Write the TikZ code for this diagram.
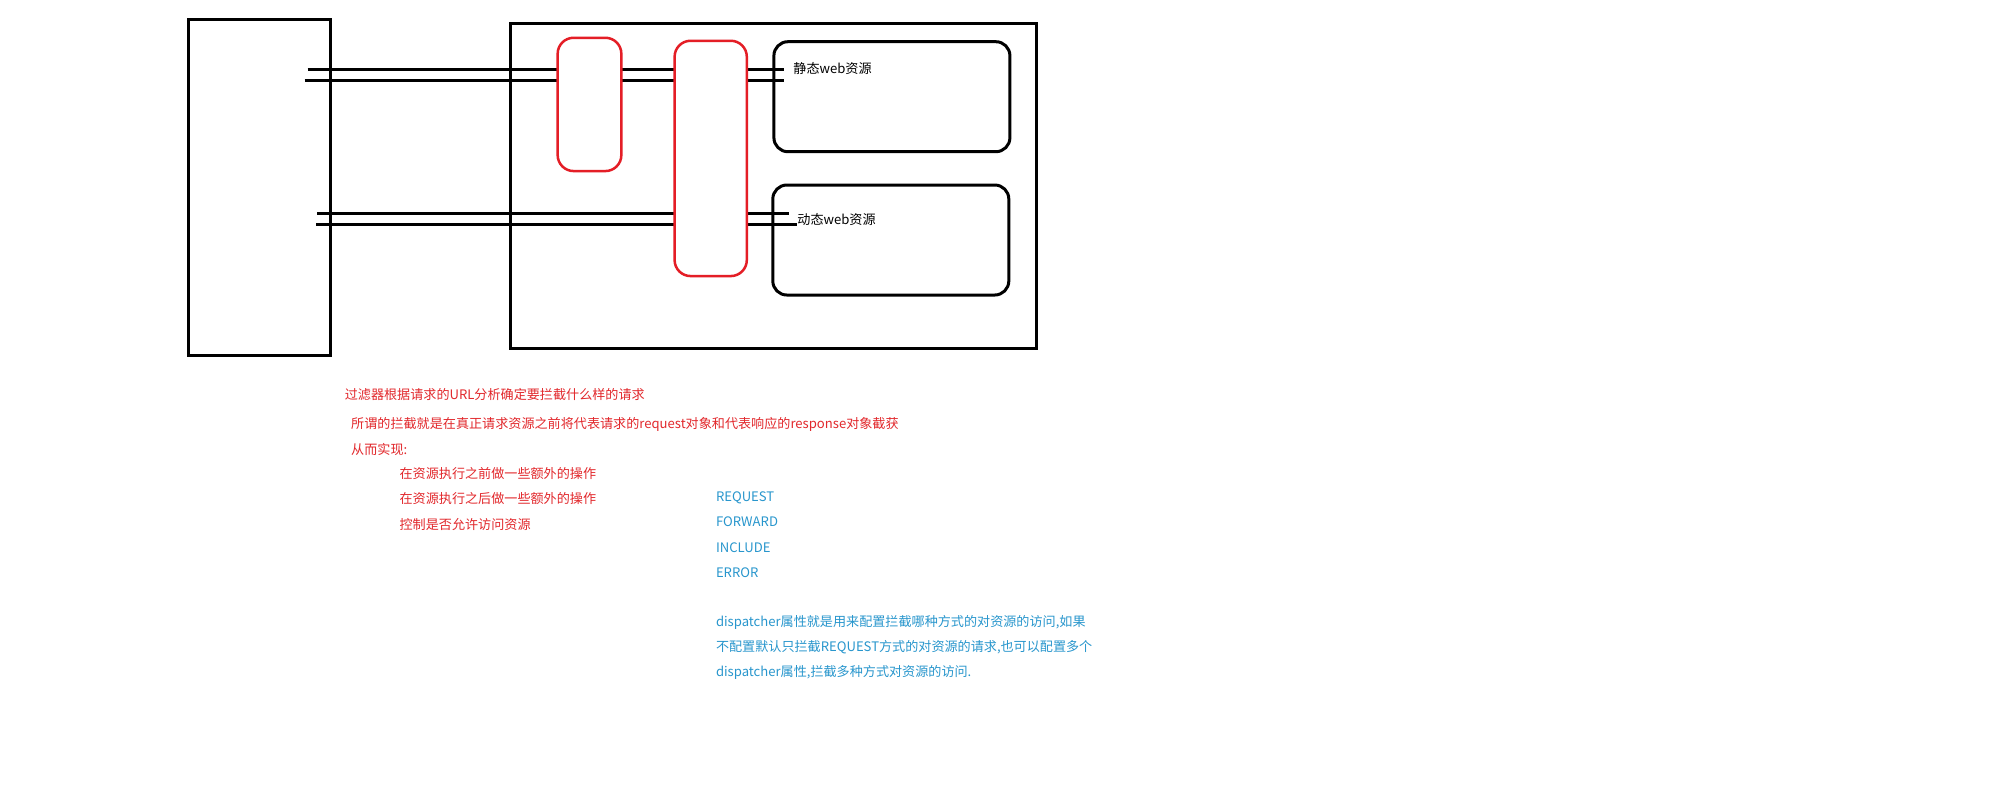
\documentclass[tikz,border=0pt]{standalone}
\usepackage{fontspec}
\newfontfamily\cjk{Noto Sans CJK SC}
\definecolor{redline}{RGB}{228,30,38}
\definecolor{redtext}{RGB}{226,40,44}
\definecolor{bluetext}{RGB}{40,150,205}
\begin{document}
\begin{tikzpicture}[x=0.5pt,y=-0.5pt,
  blackbox/.style={draw=black,line width=1.5pt,fill=white},
  resbox/.style={draw=black,line width=1.5pt,rounded corners=7pt},
  filterbox/.style={draw=redline,line width=1.25pt,fill=white,rounded corners=8pt},
  wire/.style={draw=black,line width=1.5pt},
  lbl/.style={anchor=west,inner sep=0pt,font=\cjk\fontsize{6.55pt}{8pt}\selectfont},
  redlbl/.style={lbl,text=redtext},
  bluelbl/.style={lbl,text=bluetext}]
\useasboundingbox[fill=white] (0,0) rectangle (2000,784);
% client and server
\draw[blackbox] (188,19) rectangle (330,355);
\draw[blackbox] (510,23) rectangle (1036,348);
% resources
\node[resbox,minimum width=236pt*0.5,minimum height=110pt*0.5,inner sep=0pt] (static) at (891.9,96.7) {};
\node[resbox,minimum width=236pt*0.5,minimum height=110pt*0.5,inner sep=0pt] (dynamic) at (890.8,240) {};
% wire end points
\coordinate (t1a) at (307.6,69.3); \coordinate (t1b) at (783.5,69.3);
\coordinate (t2a) at (304.7,80.3); \coordinate (t2b) at (783.5,80.3);
\coordinate (b1a) at (317.4,213.3); \coordinate (b1b) at (789,213.3);
\coordinate (b2a) at (316.2,224.3); \coordinate (b2b) at (796.7,224.3);
\draw[wire] (t1a) -- (t1b);
\draw[wire] (t2a) -- (t2b);
\draw[wire] (b1a) -- (b1b);
\draw[wire] (b2a) -- (b2b);
% filters
\node[filterbox,minimum width=63.7pt*0.5,minimum height=133.3pt*0.5,inner sep=0pt] (f1) at (589.5,104.4) {};
\node[filterbox,minimum width=72.2pt*0.5,minimum height=235.3pt*0.5,inner sep=0pt] (f2) at (710.7,158.4) {};
% resource labels
\node[lbl] (stxt) at (793,68) {静态web资源};
\node[lbl] (dtxt) at (797,219) {动态web资源};
% red notes
\node[redlbl] (n1) at (344.4,394) {过滤器根据请求的URL分析确定要拦截什么样的请求};
\node[redlbl] (n2) at (350.8,424.7) {所谓的拦截就是在真正请求资源之前将代表请求的request对象和代表响应的response对象截获};
\node[redlbl] (n3) at (350.8,449) {从而实现:};
\node[redlbl] (n4) at (399.2,473.2) {在资源执行之前做一些额外的操作};
\node[redlbl] (n5) at (399.2,498.7) {在资源执行之后做一些额外的操作};
\node[redlbl] (n6) at (399.2,524.2) {控制是否允许访问资源};
% blue notes
\node[bluelbl] (d1) at (715.6,497.4) {REQUEST};
\node[bluelbl] (d2) at (715.6,521.7) {FORWARD};
\node[bluelbl] (d3) at (715.6,547.2) {INCLUDE};
\node[bluelbl] (d4) at (715.6,572.7) {ERROR};
\node[bluelbl] (e1) at (715.6,622.4) {dispatcher属性就是用来配置拦截哪种方式的对资源的访问,如果};
\node[bluelbl] (e2) at (715.6,646.7) {不配置默认只拦截REQUEST方式的对资源的请求,也可以配置多个};
\node[bluelbl] (e3) at (715.6,672.2) {dispatcher属性,拦截多种方式对资源的访问.};
\end{tikzpicture}
\end{document}
